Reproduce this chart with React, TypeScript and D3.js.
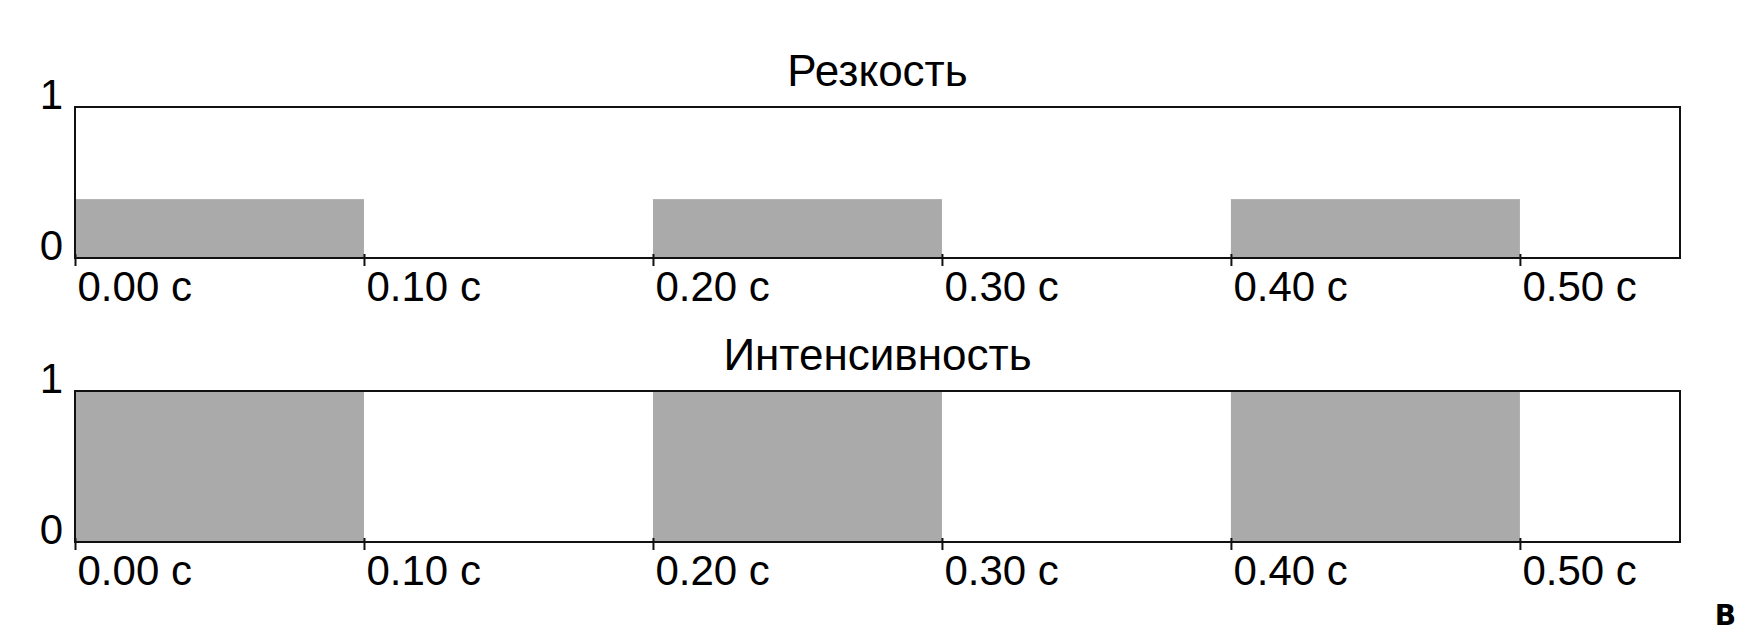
import React, { useEffect, useRef } from 'react';
import * as d3 from 'd3';

const width = 1756;
const height = 638;

// time axis (seconds)
const timeTicks = [0, 0.1, 0.2, 0.3, 0.4, 0.5];
const pulseStarts = [0, 0.2, 0.4];
const pulseEnds = [0.1, 0.3, 0.5];

// pulse heights for each panel
const panelTitles = ['Резкость', 'Интенсивность'];
const sharpnessValues = [0.39, 0.39, 0.39];
const intensityValues = [1, 1, 1];
const yTicks = [0, 1];

const plotLeft = 75;
const plotRight = 1680;
const panelTops = [107, 391];
const panelHeight = 151;
const fontFamily = '"Liberation Sans", Arial, sans-serif';

export default function App() {
  const ref = useRef<SVGSVGElement | null>(null);

  useEffect(() => {
    const svg = d3.select(ref.current);
    svg.selectAll('*').remove();

    const x = d3.scaleLinear().domain([0, 0.5554]).range([plotLeft, plotRight]);
    const series = [sharpnessValues, intensityValues];

    panelTitles.forEach((title, i) => {
      const top = panelTops[i];
      const bottom = top + panelHeight;
      const y = d3.scaleLinear().domain([0, 1]).range([bottom, top]);
      const bars = pulseStarts.map((s, j) => ({ s, e: pulseEnds[j], v: series[i][j] }));
      const g = svg.append('g');

      g.selectAll('rect.bar')
        .data(bars)
        .enter()
        .append('rect')
        .attr('class', 'bar')
        .attr('x', (d) => x(d.s))
        .attr('width', (d) => x(d.e) - x(d.s))
        .attr('y', (d) => y(d.v))
        .attr('height', (d) => y(0) - y(d.v))
        .attr('fill', '#aaaaaa');

      // frame
      g.append('rect')
        .attr('x', plotLeft)
        .attr('y', top)
        .attr('width', plotRight - plotLeft)
        .attr('height', panelHeight)
        .attr('fill', 'none')
        .attr('stroke', '#111')
        .attr('stroke-width', 2);

      // x axis
      const xa = g
        .append('g')
        .attr('transform', `translate(0, ${bottom})`)
        .call(
          d3
            .axisBottom(x)
            .tickValues(timeTicks)
            .tickSize(8)
            .tickFormat((d) => `${d3.format('.2f')(d as number)} с`)
        );
      xa.select('.domain').remove();
      xa.selectAll('line').attr('y1', -4).attr('stroke', '#111').attr('stroke-width', 2);
      xa.selectAll('text')
        .attr('text-anchor', 'start')
        .attr('x', 2)
        .attr('y', 43)
        .attr('dy', 0)
        .attr('fill', '#000')
        .style('font-family', fontFamily)
        .style('font-size', '42px');

      // y axis
      const ya = g
        .append('g')
        .attr('transform', `translate(${plotLeft}, 0)`)
        .call(d3.axisLeft(y).tickValues(yTicks).tickSize(0).tickFormat(d3.format('d')));
      ya.select('.domain').remove();
      ya.selectAll('text')
        .attr('x', -12)
        .attr('dy', 0)
        .attr('y', 1)
        .attr('fill', '#000')
        .style('font-family', fontFamily)
        .style('font-size', '42px');

      g.append('text')
        .attr('x', (plotLeft + plotRight) / 2)
        .attr('y', top - 21)
        .attr('text-anchor', 'middle')
        .style('font-family', fontFamily)
        .style('font-size', '44px')
        .text(title);
    });

    svg
      .append('text')
      .attr('x', 1736)
      .attr('y', 625)
      .attr('text-anchor', 'end')
      .style('font-family', '"DejaVu Sans", sans-serif')
      .style('font-weight', 'bold')
      .style('font-size', '28px')
      .text('В');
  }, []);

  return (
    <svg
      ref={ref}
      width={width}
      height={height}
      style={{ position: 'absolute', left: 0, top: 0, background: '#fff' }}
    />
  );
}
